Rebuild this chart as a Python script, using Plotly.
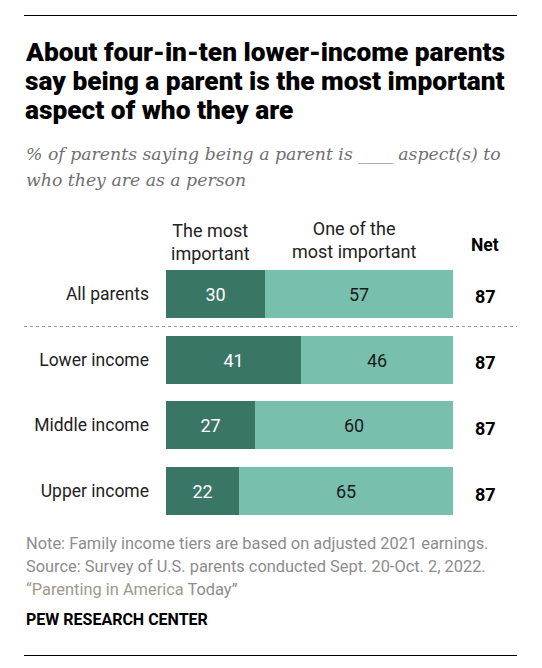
import plotly.graph_objects as go

# data
groups = ["All parents", "Lower income", "Middle income", "Upper income"]
most_important = [30, 41, 27, 22]
one_of_most = [57, 46, 60, 65]
net = [87, 87, 87, 87]

DARK = "#3a7666"
LIGHT = "#79bfae"
W, H = 542, 668


def py(px):
    # pixel row -> paper y
    return 1 - px / H


def pxx(px):
    return px / W


ypos = list(range(len(groups)))

fig = go.Figure()
fig.add_trace(go.Bar(
    y=ypos, x=most_important, orientation="h",
    marker=dict(color=DARK, line=dict(width=0)),
    width=0.73,
    text=most_important, textposition="inside", insidetextanchor="middle",
    textangle=0, constraintext="none",
    textfont=dict(family="Roboto", size=18, color="white"),
    hoverinfo="skip",
))
fig.add_trace(go.Bar(
    y=ypos, x=one_of_most, orientation="h",
    marker=dict(color=LIGHT, line=dict(width=0)),
    width=0.73,
    text=one_of_most, textposition="inside", insidetextanchor="middle",
    textangle=0, constraintext="none",
    textfont=dict(family="Roboto", size=18, color="#1a1a1a"),
    hoverinfo="skip",
))

fig.update_layout(
    width=W, height=H,
    margin=dict(l=0, r=0, t=0, b=0),
    paper_bgcolor="white", plot_bgcolor="white",
    barmode="stack", bargap=0,
    showlegend=False,
    font=dict(family="Roboto", color="#222222"),
)

fig.update_xaxes(
    domain=[pxx(166), pxx(453)], range=[0, most_important[0] + one_of_most[0]],
    showgrid=False, zeroline=False, showticklabels=False, fixedrange=True,
)
fig.update_yaxes(
    domain=[py(524), py(261)], range=[3.5, -0.5],
    tickvals=ypos, ticktext=groups, ticks="",
    ticklabelstandoff=16,
    tickfont=dict(family="Roboto", size=17.5, color="#222222"),
    showgrid=False, zeroline=False, fixedrange=True,
)

ann = []

# title
title_lines = [
    "About four-in-ten lower-income parents",
    "say being a parent is the most important",
    "aspect of who they are",
]
for txt, yc in zip(title_lines, [52, 81, 110]):
    ann.append(dict(text=txt, x=pxx(23), y=py(yc),
                    xanchor="left", yanchor="middle",
                    font=dict(family="Roboto", size=26.3, weight=900, color="#000000")))

sub_lines = [
    "% of parents saying being a parent is ____ aspect(s) to",
    "who they are as a person",
]
for txt, yc in zip(sub_lines, [154, 180]):
    ann.append(dict(text="<i>" + txt + "</i>", x=pxx(24), y=py(yc),
                    xanchor="left", yanchor="middle",
                    font=dict(family="DejaVu Serif", size=17.3, color="#6f6f6f")))

# column headers
ann.append(dict(text="The most<br>important", x=pxx(210), y=py(242),
                xanchor="center", yanchor="middle", align="center",
                font=dict(family="Roboto", size=18, color="#222222")))
ann.append(dict(text="One of the<br>most important", x=pxx(354), y=py(240),
                xanchor="center", yanchor="middle", align="center",
                font=dict(family="Roboto", size=18, color="#222222")))
ann.append(dict(text="<b>Net</b>", x=pxx(485), y=py(245),
                xanchor="center", yanchor="middle",
                font=dict(family="Roboto", size=17.5, color="#000000")))

# net values
for i, v in enumerate(net):
    ann.append(dict(text="<b>%d</b>" % v, x=pxx(485), xref="paper",
                    y=i, yref="y", yshift=-3,
                    xanchor="center", yanchor="middle",
                    font=dict(family="Roboto", size=18, color="#000000")))

# notes
notes = [
    "Note: Family income tiers are based on adjusted 2021 earnings.",
    "Source: Survey of U.S. parents conducted Sept. 20-Oct. 2, 2022.",
    "<span style='color:#a09888'>\u201cParenting in America</span> Today\u201d",
]
for txt, yc in zip(notes, [543, 566, 589]):
    ann.append(dict(text=txt, x=pxx(24), y=py(yc),
                    xanchor="left", yanchor="middle",
                    font=dict(family="Roboto", size=16.4, color="#8c8c8c")))

ann.append(dict(text="<b>PEW RESEARCH CENTER</b>", x=pxx(24), y=py(619),
                xanchor="left", yanchor="middle",
                font=dict(family="Roboto", size=16, color="#000000")))

for a in ann:
    a.setdefault("xref", "paper")
    a.setdefault("yref", "paper")
    a["showarrow"] = False
fig.update_layout(annotations=ann)

# rules (half-pixel offset keeps the 1px lines crisp)
fig.add_shape(type="line", xref="paper", yref="paper",
              x0=pxx(24), x1=pxx(517), y0=py(15.5), y1=py(15.5),
              line=dict(color="#000000", width=1))
fig.add_shape(type="line", xref="paper", yref="paper",
              x0=pxx(24), x1=pxx(517), y0=py(655.5), y1=py(655.5),
              line=dict(color="#000000", width=1))
fig.add_shape(type="line", xref="paper", yref="paper",
              x0=pxx(24), x1=pxx(517), y0=py(326.5), y1=py(326.5),
              line=dict(color="#9a9a9a", width=1, dash="dot"))

# drop the default page margin so the figure sits at 0,0
fig.write_html("out.html", config={"displayModeBar": False},
               post_script="document.body.style.margin='0';")
